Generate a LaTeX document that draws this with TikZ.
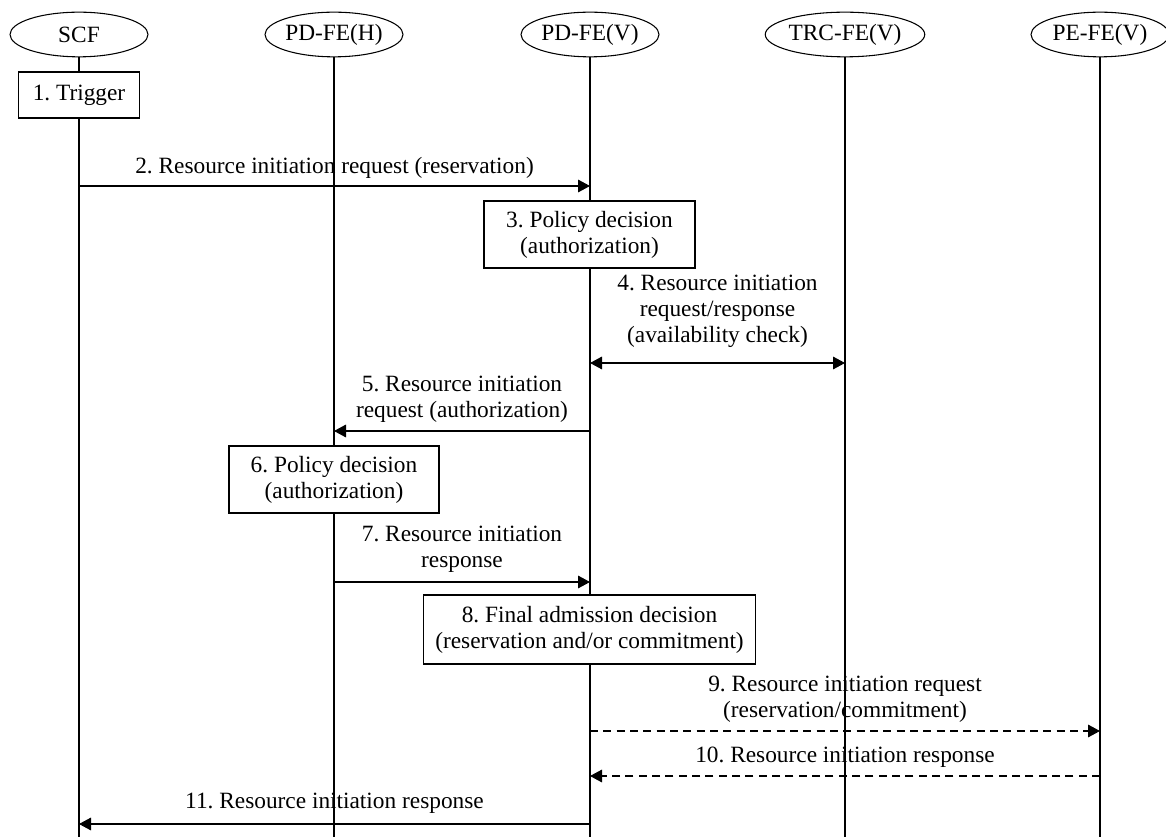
\documentclass[tikz,border=0pt]{standalone}
\usepackage{fontspec}
\setmainfont{Liberation Serif}
\usetikzlibrary{arrows.meta,shapes.geometric}
\frenchspacing
\begin{document}
\begin{tikzpicture}[x=0.75pt,y=-0.75pt,
  every node/.style={font=\fontsize{17.5}{19.5}\selectfont},
  entity/.style={draw, ellipse, line width=0.8pt, inner sep=0pt,
    minimum width=103.5pt, minimum height=33.5pt},
  actionbox/.style={draw, fill=white, line width=0.8pt, align=center, inner sep=0pt},
  life/.style={line width=0.8pt},
  tip/.tip={Triangle[length=9pt,width=9.5pt]},
  msg/.style={line width=0.8pt, -tip},
  dmsg/.style={msg, dash pattern=on 6pt off 4pt},
  bimsg/.style={line width=0.8pt, tip-tip},
  msglabel/.style={align=center, inner sep=0pt, midway}]
\useasboundingbox (0,0) rectangle (1166,837);

% participants
\node[entity] (scf) at (79,34.5)   {SCF};
\node[entity] (pdh) at (334,34.5)  {PD-FE(H)};
\node[entity] (pdv) at (590,34.5)  {PD-FE(V)};
\node[entity] (trc) at (845,34.5)  {TRC-FE(V)};
\node[entity] (pe)  at (1100,34.5) {PE-FE(V)};

% lifelines
\coordinate (bottom) at (0,837);
\foreach \p in {scf,pdh,pdv,trc,pe}
  \draw[life] (\p.south) -- (\p |- bottom);

% message heights
\coordinate (m2)  at (0,186);
\coordinate (m4)  at (0,363);
\coordinate (m5)  at (0,431);
\coordinate (m7)  at (0,582);
\coordinate (m9)  at (0,731);
\coordinate (m10) at (0,776);
\coordinate (m11) at (0,824);

% local actions
\node[actionbox, minimum width=90.75pt, minimum height=34.5pt] (trigger) at (79,95) {1. Trigger};
\node[actionbox, minimum width=158.25pt, minimum height=50.25pt] (pol1) at (589.5,234.5)
  {3. Policy decision\\(authorization)};
\node[actionbox, minimum width=157.5pt, minimum height=50.25pt] (pol2) at (334,479.5)
  {6. Policy decision\\(authorization)};
\node[actionbox, minimum width=249pt, minimum height=51.75pt] (fad) at (589.5,629.5)
  {8. Final admission decision\\(reservation and/or commitment)};

% messages
\draw[msg] (scf |- m2) -- node[msglabel, yshift=13.5pt]
  {2. Resource initiation request (reservation)} (pdv |- m2);
\draw[bimsg] (pdv |- m4) -- node[msglabel, yshift=39pt]
  {4. Resource initiation\\request/response\\(availability check)} (trc |- m4);
\draw[msg] (pdv |- m5) -- node[msglabel, yshift=24pt]
  {5. Resource initiation\\request (authorization)} (pdh |- m5);
\draw[msg] (pdh |- m7) -- node[msglabel, yshift=24.4pt]
  {7. Resource initiation\\response} (pdv |- m7);
\draw[dmsg] (pdv |- m9) -- node[msglabel, yshift=23.6pt]
  {9. Resource initiation request\\(reservation/commitment)} (pe |- m9);
\draw[dmsg] (pe |- m10) -- node[msglabel, yshift=14.25pt]
  {10. Resource initiation response} (pdv |- m10);
\draw[msg] (pdv |- m11) -- node[msglabel, yshift=15.75pt]
  {11. Resource initiation response} (scf |- m11);
\end{tikzpicture}
\end{document}
